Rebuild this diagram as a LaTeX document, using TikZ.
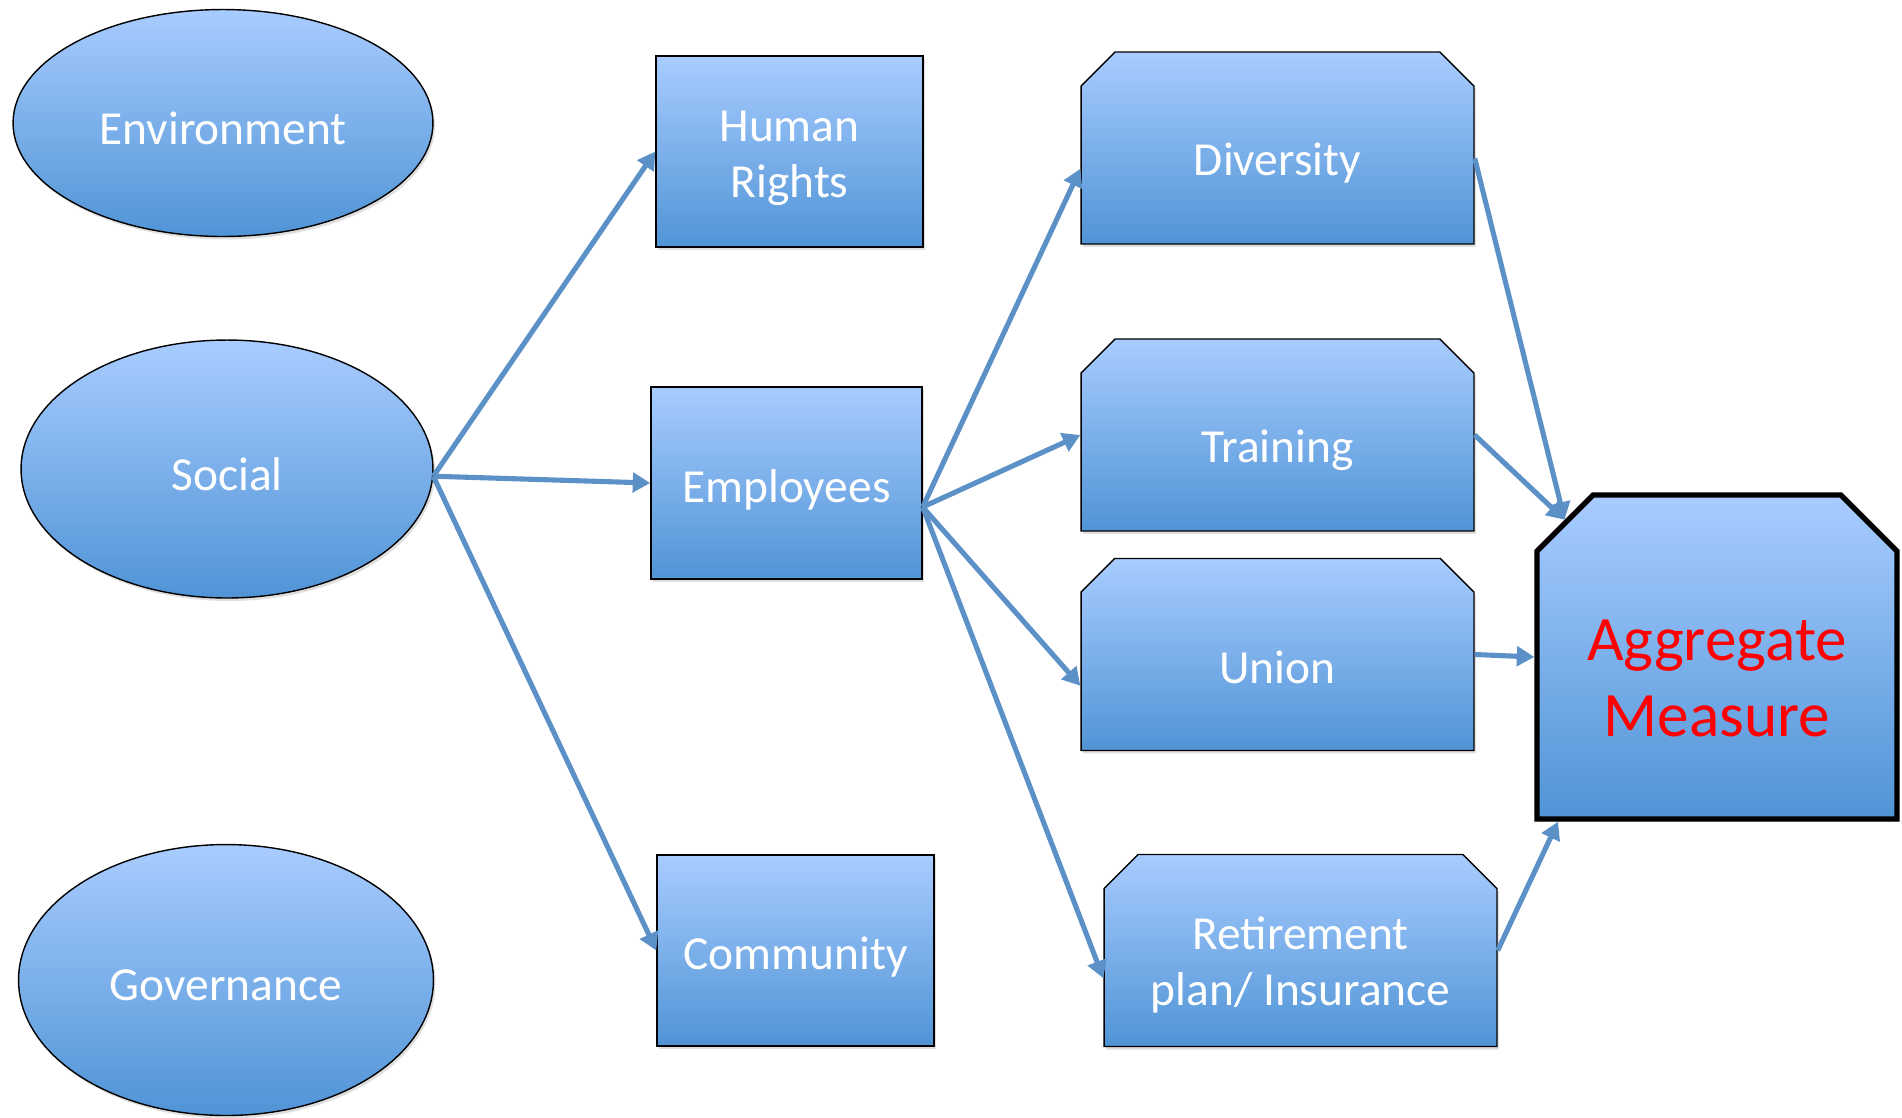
\documentclass[tikz,border=0pt]{standalone}
\usepackage{fontspec}
\setmainfont{Carlito}
\usetikzlibrary{shapes.geometric, shapes.misc, shadows, arrows.meta}

\definecolor{boxtop}{RGB}{168,204,255}
\definecolor{boxbottom}{RGB}{80,148,214}
\definecolor{linkblue}{RGB}{92,145,200}

% push the text of a box down a little, keeping its size
\newcommand{\lowtext}[2]{\raisebox{-#1}[\height][\depth]{#2}}

\begin{document}
\begin{tikzpicture}[x=0.02cm, y=-0.02cm]
        \tikzstyle{filled}=[draw=black, line width=0.8pt, top color=boxtop, bottom color=boxbottom, drop shadow={opacity=0.25, shadow xshift=0.4mm, shadow yshift=-0.6mm}, text=white, align=center, inner sep=0pt, font=\fontsize{27}{32}\selectfont]
        \tikzstyle{pillar}=[filled, ellipse]
        \tikzstyle{topic}=[filled, rectangle]
        \tikzstyle{factor}=[filled, chamfered rectangle, chamfered rectangle corners={north west, north east}, chamfered rectangle xsep=0.34cm, chamfered rectangle ysep=0.34cm, minimum width=7.86cm, minimum height=3.84cm]
        \tikzstyle{link}=[-{Triangle[length=10pt, width=11pt]}, line width=2.9pt, draw=linkblue]
        \useasboundingbox (0,0) rectangle (1902,1117);

        \node[pillar, minimum width=8.4cm, minimum height=4.54cm] (environment) at (223,123) {\lowtext{3pt}{Environment}};
        \node[pillar, minimum width=8.24cm, minimum height=5.16cm] (social) at (227,469) {\lowtext{3pt}{Social}};
        \node[pillar, minimum width=8.3cm, minimum height=5.42cm] (governance) at (226,980) {\lowtext{3pt}{Governance}};

        \node[topic, minimum width=5.34cm, minimum height=3.82cm] (rights) at (789.5,151.5) {\lowtext{4pt}{\begin{tabular}{@{}c@{}}Human\\Rights\end{tabular}}};
        \node[topic, minimum width=5.42cm, minimum height=3.84cm] (employees) at (786.5,483) {\lowtext{4pt}{Employees}};
        \node[topic, minimum width=5.54cm, minimum height=3.82cm] (community) at (795.5,950.5) {\lowtext{3.5pt}{Community}};

        \node[factor] (diversity) at (1277.5,148) {\lowtext{8.5pt}{Diversity}};
        \node[factor] (training) at (1277.5,435) {\lowtext{8.5pt}{Training}};
        \node[factor] (union) at (1277.5,654.5) {\lowtext{7.5pt}{Union}};
        \node[factor] (retirement) at (1300.5,950.5) {\lowtext{9pt}{\begin{tabular}{@{}c@{}}Retirement\\plan/ Insurance\end{tabular}}};

        \node[filled, chamfered rectangle, chamfered rectangle corners={north west, north east}, chamfered rectangle xsep=0.62cm, chamfered rectangle ysep=0.5cm, minimum width=7.2cm, minimum height=6.48cm, line width=3pt, text=red, font=\fontsize{36}{43}\selectfont] (aggregate) at (1717,657) {\lowtext{15pt}{\begin{tabular}{@{}c@{}}Aggregate\\Measure\end{tabular}}};

        \draw[link] (social.-2) -- (rights.west);
        \draw[link] (social.-2) -- (employees.west);
        \draw[link] (social.-2) -- (community.west);

        \draw[link] (employees.-10) -- (diversity.186);
        \draw[link] (employees.-10) -- (training.west);
        \draw[link] (employees.-10) -- (union.189);
        \draw[link] (employees.-10) -- (retirement.188);

        \draw[link] (diversity.-3.5) -- (aggregate.138);
        \draw[link] (training.east) -- (aggregate.138);
        \draw[link] (union.east) -- (aggregate.west);
        \draw[link] (retirement.east) -- (aggregate.226);
    \end{tikzpicture}
\end{document}
